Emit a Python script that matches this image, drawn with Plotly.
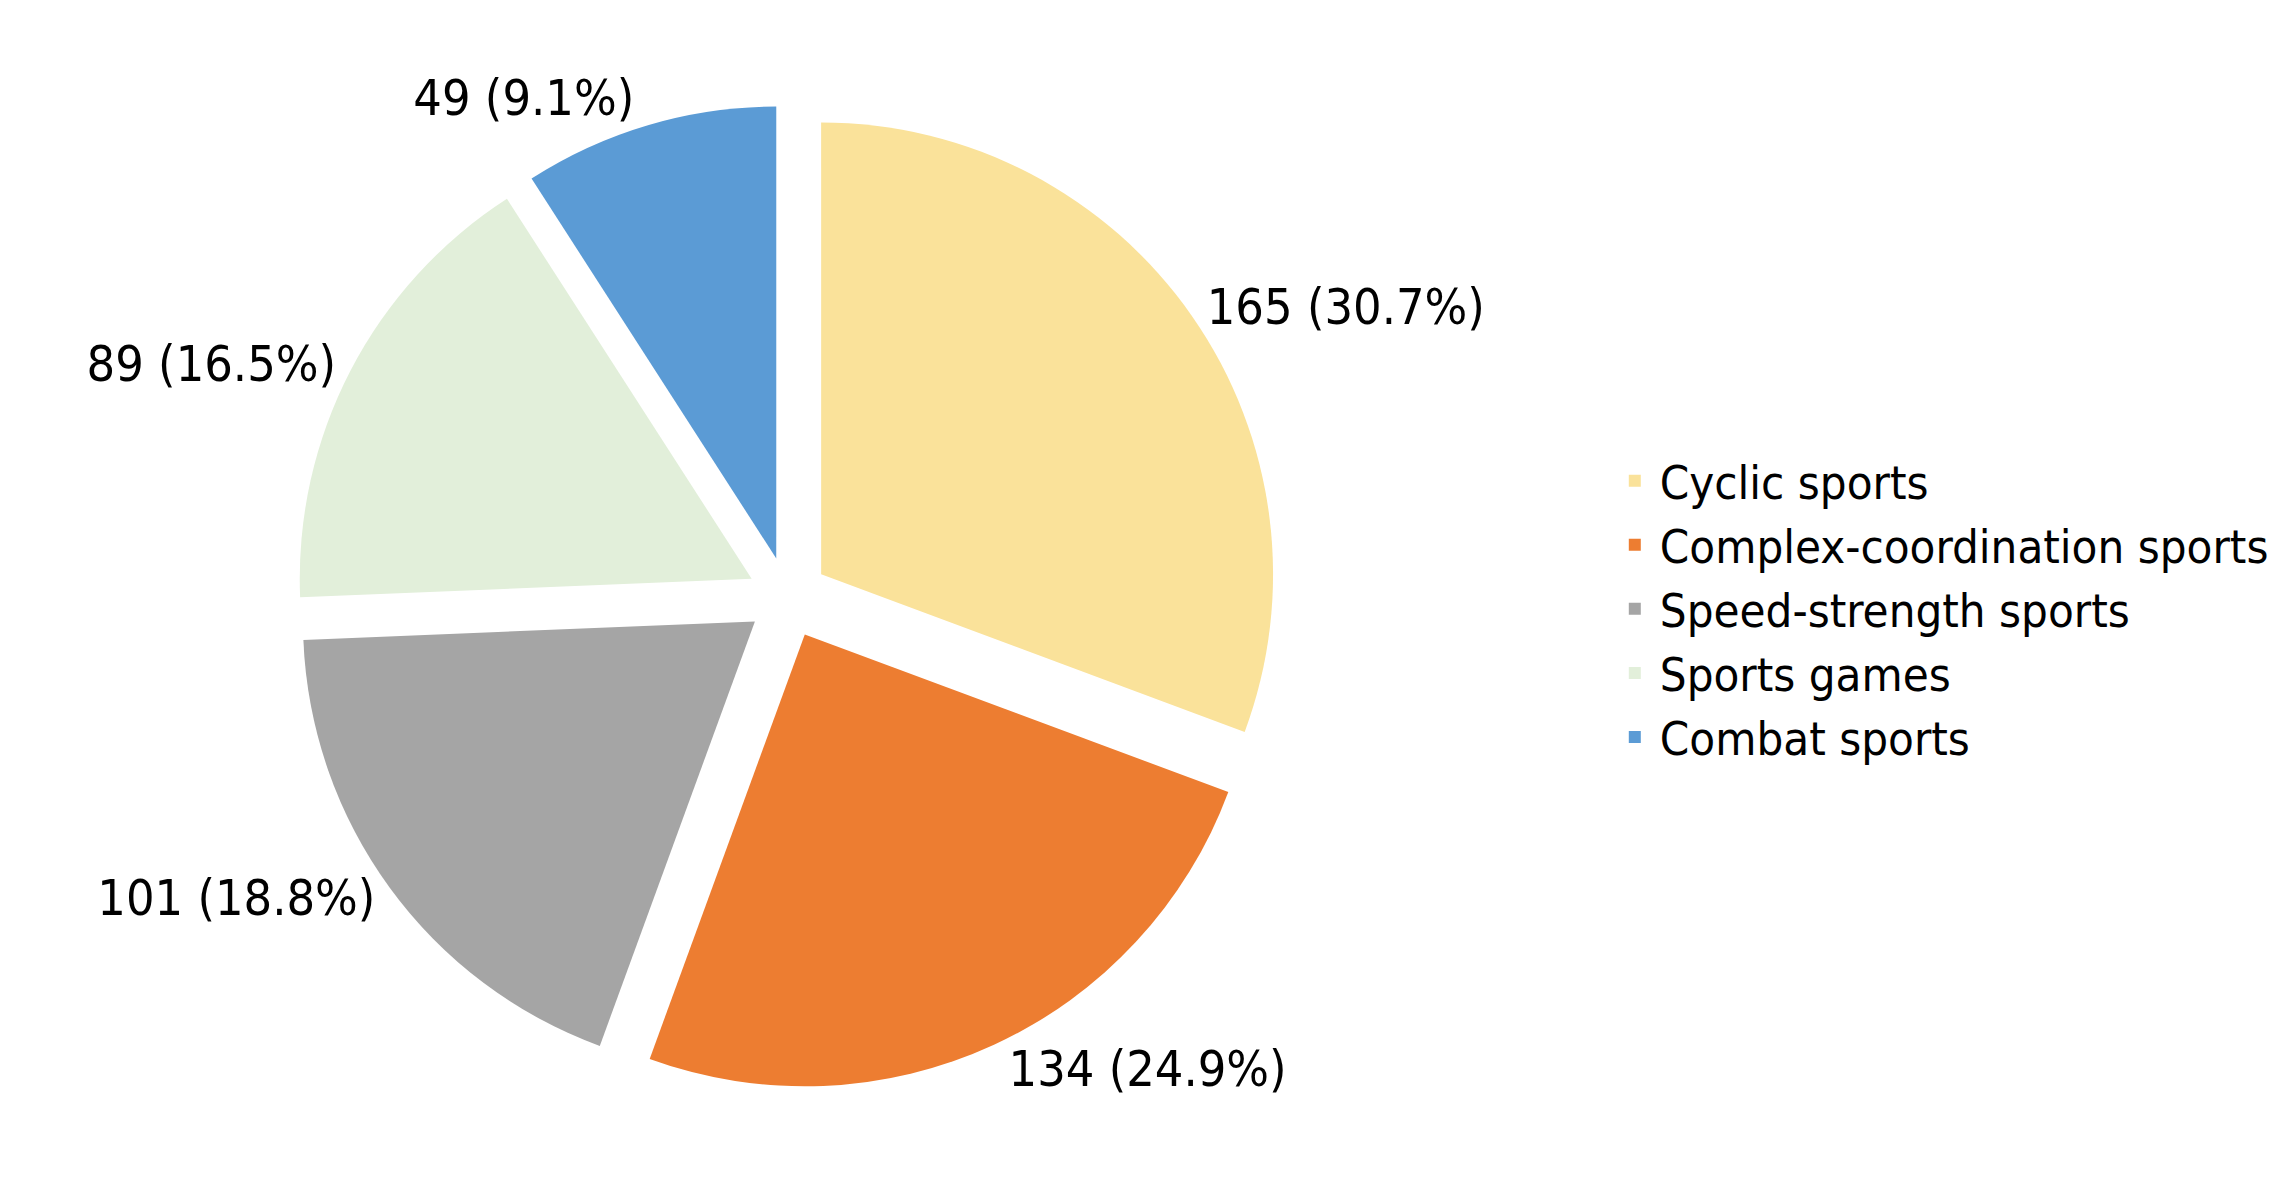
import plotly.graph_objects as go

# categories and counts
sports = ["Cyclic sports", "Complex-coordination sports", "Speed-strength sports",
          "Sports games", "Combat sports"]
counts = [165, 134, 101, 89, 49]
shares = [30.7, 24.9, 18.8, 16.5, 9.1]

colors = ["#FAE29A", "#ED7D31", "#A5A5A5", "#E2EFDA", "#5B9BD5"]

labels_txt = [f"{n} ({p}%)" for n, p in zip(counts, shares)]

fig = go.Figure(
    go.Pie(
        labels=sports,
        values=counts,
        text=labels_txt,
        texttemplate="%{text}",
        textposition="outside",
        sort=False,
        direction="clockwise",
        rotation=0,
        pull=[0.09, 0.09, 0.09, 0.09, 0.09],
        marker=dict(colors=colors, line=dict(color="white", width=0)),
        outsidetextfont=dict(color="black", size=50),
        domain=dict(x=[0.118, 0.559], y=[0.075, 0.925]),
        hoverinfo="label+value+percent",
    )
)

fig.update_layout(
    width=2294,
    height=1179,
    paper_bgcolor="white",
    plot_bgcolor="white",
    font=dict(family="DejaVu Sans Condensed, DejaVu Sans, sans-serif", size=46, color="black"),
    margin=dict(l=10, r=10, t=10, b=10, autoexpand=False),
    legend=dict(
        x=0.70,
        y=0.49,
        xanchor="left",
        yanchor="middle",
        font=dict(size=47),
        tracegroupgap=0,
        itemwidth=40,
    ),
)

fig.write_html("out.html")
